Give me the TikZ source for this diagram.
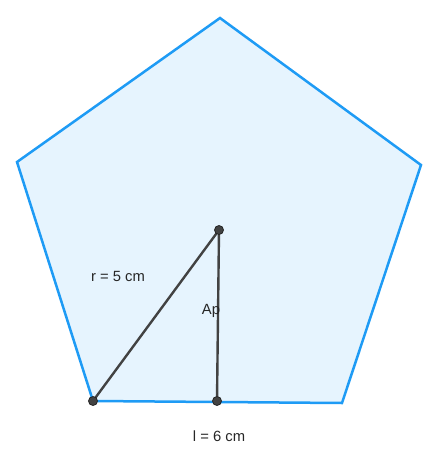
\documentclass[tikz,border=0pt]{standalone}
\usepackage{fontspec}
\setmainfont{Liberation Sans}
\usepackage{xcolor}
\usetikzlibrary{positioning,calc,backgrounds}
\definecolor{pentaedge}{HTML}{1E9BF5}
\definecolor{pentafill}{HTML}{E6F4FE}
\definecolor{segdark}{HTML}{424242}

\begin{document}
\begin{tikzpicture}[
    x=1pt,y=-1pt,
    side/.style  = {draw=pentaedge,fill=pentafill,line width=2.5pt,line join=miter},
    seg/.style   = {draw=segdark,line width=2.4pt},
    pt/.style    = {circle,fill=segdark,draw=black!85,line width=0.8pt,
                    inner sep=0pt,minimum size=9pt},
    lbl/.style   = {font=\fontsize{14.8}{17}\selectfont,text=black!85,inner sep=1pt},
  ]
  \useasboundingbox (0,0) rectangle (437,463);

  % vertices of the pentagon
  \coordinate (vt) at (220,18);
  \coordinate (vr) at (421,165);
  \coordinate (vbr) at (342,403);
  \coordinate (vbl) at (93,401);
  \coordinate (vl) at (17,162);

  \node[pt] (c) at (219,230) {};
  \node[pt] (a) at (vbl) {};
  \node[pt] (m) at (217,401) {};

  \begin{scope}[on background layer]
    \path[side] (vt) -- (vr) -- (vbr) -- (vbl) -- (vl) -- cycle;
    \draw[seg] (a.center) -- (c.center);
    \draw[seg] (c.center) -- (m.center);
  \end{scope}

  \node[lbl] (rad) at (118,276) {r = 5 cm};
  \node[lbl] (apo) at (211,311) {Ap};
  \node[lbl] (len) at (219,436) {l = 6 cm};

\end{tikzpicture}
\end{document}
